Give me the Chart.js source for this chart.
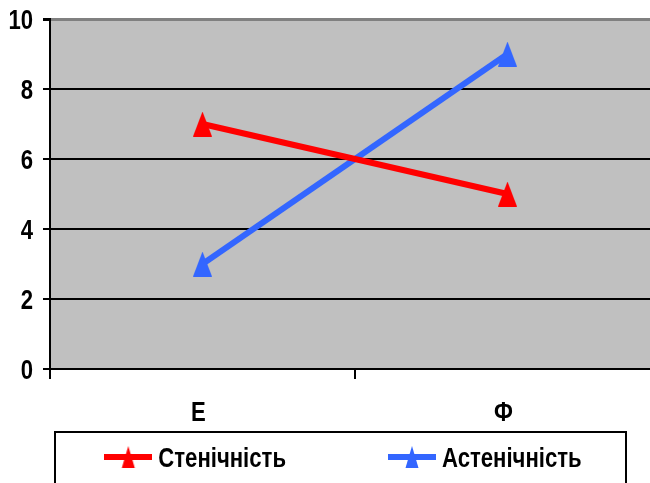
<!DOCTYPE html>
<html>
<head>
<meta charset="utf-8">
<script src="https://cdn.jsdelivr.net/npm/chart.js@4/dist/chart.umd.min.js"></script>
<style>
  html, body { margin: 0; padding: 0; background: #fff; overflow: hidden; width: 650px; height: 483px; }
  canvas { display: block; }
</style>
</head>
<body>
<canvas id="c" width="660" height="483"></canvas>
<script>
// Categories and series values
const categories = ['Е', 'Ф'];
const stenichnist = [7, 5];
const astenichnist = [3, 9];
const seriesNames = ['Стенічність', 'Астенічність'];
const seriesColors = ['#ff0000', '#3366ff'];
const yMin = 0, yMax = 10, yStep = 2;

// Bold sans, squeezed horizontally to a narrow face
const FONT = 'bold 28px "Liberation Sans", Arial, sans-serif';
const NARROW = 0.79;

// Triangle marker drawn into a small canvas, used as an image point style
function triangleMarker(color, w, h) {
  const c = document.createElement('canvas');
  c.width = w; c.height = h;
  const g = c.getContext('2d');
  g.fillStyle = color;
  g.beginPath();
  g.moveTo(w / 2, 0);
  g.lineTo(w, h);
  g.lineTo(0, h);
  g.closePath();
  g.fill();
  return c;
}

// Legend symbol: a short thick line with a small triangle on it
function legendSymbol(color) {
  const w = 48, h = 22;
  const c = document.createElement('canvas');
  c.width = w; c.height = h;
  const g = c.getContext('2d');
  g.fillStyle = color;
  g.fillRect(0, 8, w, 6);
  g.beginPath();
  g.moveTo(w / 2, 0);
  g.lineTo(w / 2 + 6.5, h);
  g.lineTo(w / 2 - 6.5, h);
  g.closePath();
  g.fill();
  return c;
}

function narrowText(ctx, text, x, y, align) {
  ctx.save();
  ctx.translate(x, y);
  ctx.scale(NARROW, 1);
  ctx.textAlign = align;
  ctx.textBaseline = 'alphabetic';
  ctx.fillText(text, 0, 0);
  ctx.restore();
}

// Grey plot background
const plotBackground = {
  id: 'plotBackground',
  beforeDraw(chart) {
    const { ctx, chartArea: a } = chart;
    ctx.save();
    ctx.fillStyle = '#c0c0c0';
    ctx.fillRect(a.left, a.top, a.right - a.left, a.bottom - a.top);
    ctx.restore();
  }
};

// Tick labels in the narrow bold face, placed from the library's scales
const narrowTickLabels = {
  id: 'narrowTickLabels',
  afterDraw(chart) {
    const { ctx } = chart;
    const xs = chart.scales.x, ys = chart.scales.y;
    ctx.save();
    ctx.font = FONT;
    ctx.fillStyle = '#000';
    ys.ticks.forEach((t, i) => {
      narrowText(ctx, String(t.label), chart.chartArea.left - 17, ys.getPixelForTick(i) + 10, 'right');
    });
    xs.ticks.forEach((t, i) => {
      narrowText(ctx, String(xs.getLabelForValue(t.value)), xs.getPixelForTick(i) - 4, 421, 'center');
    });
    ctx.restore();
  }
};

// Boxed legend under the axis
const boxedLegend = {
  id: 'boxedLegend',
  afterDraw(chart) {
    const { ctx } = chart;
    const centerX = 343, midY = 457, baseY = 467, gap = 102, symW = 48, symGap = 6;
    ctx.save();
    ctx.font = FONT;
    const items = chart.data.datasets.map(ds => ({
      label: ds.label,
      color: ds.borderColor,
      w: symW + symGap + ctx.measureText(ds.label).width * NARROW
    }));
    const total = items.reduce((s, it) => s + it.w, 0) + gap * (items.length - 1);
    let x = centerX - total / 2;
    ctx.strokeStyle = '#000';
    ctx.lineWidth = 2;
    ctx.strokeRect(55, 432, 571, 80);
    items.forEach(it => {
      ctx.drawImage(legendSymbol(it.color), x, midY - 11);
      ctx.fillStyle = '#000';
      narrowText(ctx, it.label, x + symW + symGap, baseY, 'left');
      x += it.w + gap;
    });
    ctx.restore();
  }
};

new Chart(document.getElementById('c'), {
  type: 'line',
  data: {
    labels: categories,
    datasets: [
      {
        label: seriesNames[0],
        data: stenichnist,
        borderColor: seriesColors[0],
        backgroundColor: seriesColors[0],
        borderWidth: 6,
        pointStyle: triangleMarker(seriesColors[0], 19, 25),
        pointRadius: 9,
        tension: 0
      },
      {
        label: seriesNames[1],
        data: astenichnist,
        borderColor: seriesColors[1],
        backgroundColor: seriesColors[1],
        borderWidth: 6,
        pointStyle: triangleMarker(seriesColors[1], 19, 25),
        pointRadius: 9,
        tension: 0
      }
    ]
  },
  options: {
    responsive: false,
    animation: false,
    devicePixelRatio: 1,
    events: [],
    layout: { autoPadding: false, padding: { top: 19, left: 0, right: 0, bottom: 0 } },
    plugins: {
      legend: { display: false },
      tooltip: { enabled: false }
    },
    scales: {
      x: {
        type: 'category',
        offset: true,
        grid: {
          offset: true,
          drawOnChartArea: false,
          tickLength: 10,
          color: '#000',
          lineWidth: 2
        },
        border: { color: '#000', width: 2 },
        ticks: { display: false },
        afterFit(scale) { scale.height = 114; }
      },
      y: {
        min: yMin,
        max: yMax,
        grid: {
          color: ctx => (ctx.tick && ctx.tick.value === yMax ? '#808080' : '#000'),
          tickColor: '#000',
          lineWidth: ctx => (ctx.tick && ctx.tick.value === yMax ? 3 : 2),
          tickLength: 7
        },
        border: { color: '#000', width: 2 },
        ticks: { stepSize: yStep, display: false },
        afterFit(scale) { scale.width = 50; }
      }
    }
  },
  plugins: [plotBackground, narrowTickLabels, boxedLegend]
});
</script>
</body>
</html>
